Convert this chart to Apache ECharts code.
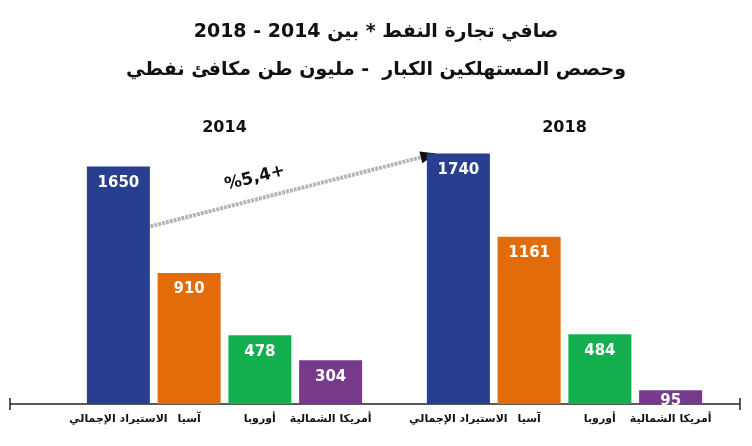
<!DOCTYPE html>
<html><head><meta charset="utf-8">
<script src="https://cdn.jsdelivr.net/npm/echarts@6/dist/echarts.min.js"></script>
<style>body{margin:0;background:#fff}#c{width:752px;height:446px}</style>
</head><body><div id="c"></div>
<script>
var regions = ['الاستيراد الإجمالي', 'آسيا', 'أوروبا', 'أمريكا الشمالية'];
var values2014 = [1650, 910, 478, 304];
var values2018 = [1740, 1161, 484, 95];
var colors = ['#273f8e', '#e36c0a', '#14b04f', '#773a8b'];
var years = ['2014', '2018'];
var growth = '%5,4+';

var font = 'DejaVu Sans';
function bars(vals, i) {
  return {
    type: 'bar', xAxisIndex: i, yAxisIndex: i, barWidth: 63,
    data: vals.map(function (v, k) {
      return { value: v, itemStyle: { color: colors[k] }, label: { distance: v < 200 ? 3 : 9 } };
    }),
    label: { show: true, position: 'insideTop', color: '#fff',
      fontFamily: font, fontWeight: 'bold', fontSize: 15 }
  };
}
function xa(i) {
  return { type: 'category', gridIndex: i, data: regions, axisLine: { show: false }, axisTick: { show: false },
    axisLabel: { interval: 0, margin: 10, color: '#111', fontFamily: font, fontWeight: 'bold', fontSize: 11 } };
}
function ya(i) { return { type: 'value', gridIndex: i, min: 0, max: 2000, show: false }; }

var chart = echarts.init(document.getElementById('c'));
chart.setOption({
  animation: false,
  title: {
    text: 'صافي تجارة النفط * بين 2014 - 2018\nوحصص المستهلكين الكبار  - مليون طن مكافئ نفطي',
    left: 'center', top: 8,
    textStyle: { fontFamily: font, fontWeight: 'bold', fontSize: 19, lineHeight: 38, color: '#111' }
  },
  grid: [
    { left: 83, width: 283, top: 116, bottom: 42 },
    { left: 423, width: 283, top: 116, bottom: 42 }
  ],
  xAxis: [xa(0), xa(1)],
  yAxis: [ya(0), ya(1)],
  series: [bars(values2014, 0), bars(values2018, 1)]
});

var p1 = chart.convertToPixel({ xAxisIndex: 0, yAxisIndex: 0 }, [0, values2014[0]]);
var p2 = chart.convertToPixel({ xAxisIndex: 1, yAxisIndex: 1 }, [0, values2018[0]]);
var a1 = chart.convertToPixel({ xAxisIndex: 0, yAxisIndex: 0 }, [1, 0]);
var a2 = chart.convertToPixel({ xAxisIndex: 0, yAxisIndex: 0 }, [2, 0]);
var b1 = chart.convertToPixel({ xAxisIndex: 1, yAxisIndex: 1 }, [1, 0]);
var b2 = chart.convertToPixel({ xAxisIndex: 1, yAxisIndex: 1 }, [2, 0]);
var base = a1[1];
var x1 = p1[0] + 32, y1 = p1[1] + 60, x2 = p2[0] - 22, y2 = p2[1];
var ang = Math.atan2(y1 - y2, x2 - x1);
chart.setOption({
  graphic: [
    { type: 'line', shape: { x1: 10, y1: base, x2: 740, y2: base }, style: { stroke: '#222', lineWidth: 1.5 } },
    { type: 'line', shape: { x1: 10, y1: base - 6, x2: 10, y2: base + 6 }, style: { stroke: '#222', lineWidth: 1.5 } },
    { type: 'line', shape: { x1: 740, y1: base - 6, x2: 740, y2: base + 6 }, style: { stroke: '#222', lineWidth: 1.5 } },
    { type: 'text', x: (a1[0] + a2[0]) / 2, y: 128, style: { text: years[0], align: 'center', verticalAlign: 'middle', font: 'bold 16px DejaVu Sans', fill: '#111' } },
    { type: 'text', x: (b1[0] + b2[0]) / 2, y: 128, style: { text: years[1], align: 'center', verticalAlign: 'middle', font: 'bold 16px DejaVu Sans', fill: '#111' } },
    { type: 'line', shape: { x1: x1, y1: y1, x2: x2 - 10 * Math.cos(ang), y2: y2 + 10 * Math.sin(ang) },
      style: { stroke: '#b5b5b5', lineWidth: 4, lineDash: [3, 1] } },
    { type: 'polygon', shape: { points: [[x2, y2],
        [x2 - 16 * Math.cos(ang) - 6 * Math.sin(ang), y2 + 16 * Math.sin(ang) - 6 * Math.cos(ang)],
        [x2 - 16 * Math.cos(ang) + 6 * Math.sin(ang), y2 + 16 * Math.sin(ang) + 6 * Math.cos(ang)]] },
      style: { fill: '#111' } },
    { type: 'text', x: 255, y: 178, rotation: ang, style: { text: growth, align: 'center', verticalAlign: 'middle', font: 'bold 17px DejaVu Sans', fill: '#111' } }
  ]
});
</script></body></html>
